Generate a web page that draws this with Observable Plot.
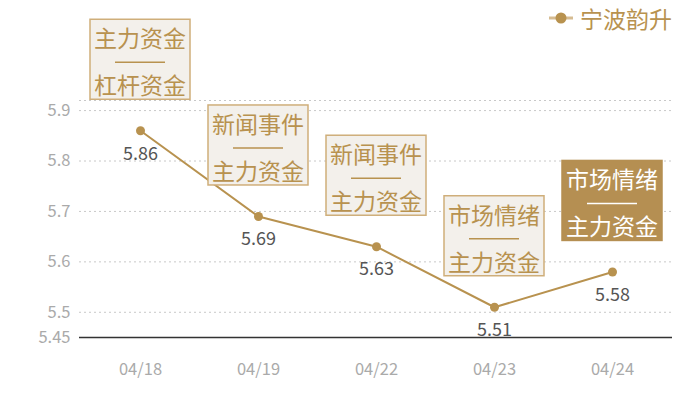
<!DOCTYPE html>
<html>
<head>
<meta charset="utf-8">
<script src="https://cdn.jsdelivr.net/npm/d3@7"></script>
<script src="https://cdn.jsdelivr.net/npm/@observablehq/plot@0.6"></script>
<style>
  html, body { margin: 0; padding: 0; background: #fff; }
  #chart { width: 700px; height: 400px; }
</style>
</head>
<body>
<div id="chart"></div>
<script>
const dates = ["04/18", "04/19", "04/22", "04/23", "04/24"];
const prices = [5.86, 5.69, 5.63, 5.51, 5.58];
const tagTop = ["主力资金", "新闻事件", "新闻事件", "市场情绪", "市场情绪"];
const tagBottom = ["杠杆资金", "主力资金", "主力资金", "主力资金", "主力资金"];
const tagHighlight = [false, false, false, false, true];
const yTicks = [5.45, 5.5, 5.6, 5.7, 5.8, 5.9];
const yDomain = [5.45, 5.92];
const seriesName = "宁波韵升";

const FONT = "'Noto Sans CJK SC', 'Noto Sans', sans-serif";
const GOLD = "#b8924f";
const data = dates.map((d, i) => ({date: d, value: prices[i]}));

function annotations(index, scales, values, dimensions) {
  const g = d3.create("svg:g").attr("font-family", FONT).attr("text-anchor", "start");
  dates.forEach((d, i) => {
    const cx = scales.x(d);
    const py = scales.y(prices[i]);
    const w = 100, h = 80;
    const top = py - 31 - h;
    const hl = tagHighlight[i];
    g.append("rect")
      .attr("x", cx - w / 2).attr("y", top)
      .attr("width", w).attr("height", h)
      .attr("fill", hl ? "#b58f52" : "#f3f0eb")
      .attr("stroke", hl ? "#b58f52" : "#cfae7a")
      .attr("stroke-width", 1.5);
    const tc = hl ? "#ffffff" : GOLD;
    g.append("line")
      .attr("x1", cx - 25).attr("x2", cx + 25)
      .attr("y1", top + 43).attr("y2", top + 43)
      .attr("stroke", tc).attr("stroke-width", 1.5);
    [[tagTop[i], 18], [tagBottom[i], 65]].forEach(([t, dy]) => {
      g.append("text")
        .attr("x", cx).attr("y", top + dy)
        .attr("text-anchor", "middle")
        .attr("dominant-baseline", "central")
        .attr("font-size", 23)
        .attr("fill", tc)
        .text(t);
    });
  });
  // legend
  const lx = dimensions.width - 151, ly = 18;
  g.append("line").attr("x1", lx).attr("x2", lx + 24).attr("y1", ly).attr("y2", ly)
    .attr("stroke", "#d6bc92").attr("stroke-width", 3);
  g.append("circle").attr("cx", lx + 12).attr("cy", ly).attr("r", 5.5).attr("fill", GOLD);
  g.append("text").attr("x", lx + 31).attr("y", ly)
    .attr("text-anchor", "start")
    .attr("dominant-baseline", "central").attr("font-size", 23)
    .attr("fill", GOLD).text(seriesName);
  return g.node();
}

const chart = Plot.plot({
  width: 700,
  height: 400,
  marginLeft: 79,
  marginRight: 28,
  marginTop: 100,
  marginBottom: 63,
  style: {fontFamily: FONT, background: "#fff", overflow: "visible"},
  x: {type: "point", domain: dates, padding: 0.5, label: null},
  y: {domain: yDomain, label: null},
  marks: [
    Plot.ruleY(yTicks.filter(t => t > yDomain[0]).concat([yDomain[1]]), {stroke: "#c8c8c8", strokeDasharray: "2,3", strokeWidth: 1}),
    Plot.ruleY([yDomain[0]], {stroke: "#333", strokeWidth: 1.5}),
    Plot.axisX({tickSize: 0, tickPadding: 26, fontSize: 16.5, fill: "#aaaaaa", label: null}),
    Plot.axisY({ticks: yTicks, tickFormat: d => String(d), tickSize: 0, tickPadding: 9, fontSize: 16.5, fill: "#aaaaaa", label: null}),
    Plot.line(data, {x: "date", y: "value", stroke: GOLD, strokeWidth: 2}),
    Plot.dot(data, {x: "date", y: "value", r: 4.5, fill: GOLD}),
    Plot.text(data, {x: "date", y: "value", text: d => d.value.toFixed(2), dy: 23, fill: "#555555", fontSize: 18}),
    annotations
  ]
});
document.getElementById("chart").append(chart);
</script>
</body>
</html>
